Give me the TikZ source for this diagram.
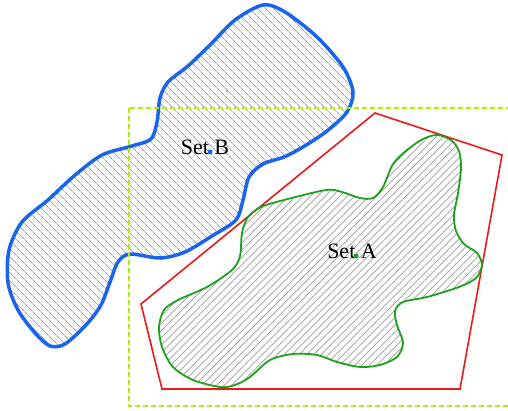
\documentclass[tikz,border=0pt]{standalone}
\usepackage{fontspec}
\setmainfont{Liberation Serif}
\usetikzlibrary{patterns.meta}

\definecolor{setblue}{RGB}{25,100,235}
\definecolor{setgreen}{RGB}{30,160,30}
\definecolor{hullred}{RGB}{235,25,25}
\definecolor{boxlime}{RGB}{170,235,20}
\definecolor{hatch}{RGB}{155,155,155}

\tikzset{
  setB/.style={draw=setblue, line width=3.5pt,
    pattern={Lines[angle=-45,distance=5.4pt,line width=0.7pt]}, pattern color=hatch},
  setA/.style={draw=setgreen, line width=1.8pt,
    pattern={Lines[angle=45,distance=5.2pt,line width=0.7pt]}, pattern color=hatch},
  hull/.style={draw=hullred, line width=1.6pt},
  frame/.style={draw=boxlime, line width=2.4pt, dash pattern=on 5pt off 3pt},
  setlabel/.style={inner sep=0pt, font=\fontsize{22}{26}\selectfont},
  dot/.style={circle, inner sep=0pt, minimum size=#1},
}

\begin{document}
\begin{tikzpicture}[x=1pt,y=-1pt]
\useasboundingbox (0,0) rectangle (508,411);

% set B
\draw[setB] plot[smooth cycle] coordinates {
  (263,5) (285,12) (317,37) (343,67) (353,92) (347,112) (327,131)
  (303,147) (284,157) (263,164) (249,177) (243,200) (236,220)
  (212,236) (185,252) (160,258) (130,254) (118,262) (110,282)
  (101,305) (86,325) (65,344) (50,346) (35,333) (18,310) (8,283)
  (9,250) (22,222) (48,200) (74,176) (102,155) (132,146) (151,139)
  (157,122) (160,98) (168,82) (188,66) (210,45) (235,20)};

% bounding frame
\draw[frame] (129,108) rectangle (514,406);

% convex hull of A
\draw[hull] (375,113) -- (502,155) -- (460,389) -- (162,389) -- (141,304) -- cycle;

% set A
\draw[setA] plot[smooth cycle] coordinates {
  (437,135) (451,140) (459,151) (461,168) (458,193) (454,215)
  (456,231) (464,244) (477,253) (482,265) (476,278) (459,287)
  (427,297) (403,302) (395,311) (397,325) (403,343) (397,357)
  (380,365) (360,367) (337,362) (317,355) (293,354) (270,360)
  (250,377) (235,385) (220,387) (193,380) (173,367) (162,347)
  (159,327) (164,310) (178,300) (207,287) (232,270) (240,256)
  (242,233) (248,217) (261,207) (284,200) (326,190) (342,192)
  (360,198) (373,198) (383,187) (393,164) (407,150) (423,139)};

% labels
\node[setlabel] (labB) at (205,147) {Set B};
\node[setlabel] (labA) at (352,251) {Set A};
\node[dot=5pt, fill=setblue] (cB) at (210,152) {};
\node[dot=5pt, fill=setgreen] (cA) at (356,256) {};
\node[dot=1.8pt, fill=setgreen] (cC) at (227,91) {};
\end{tikzpicture}
\end{document}
